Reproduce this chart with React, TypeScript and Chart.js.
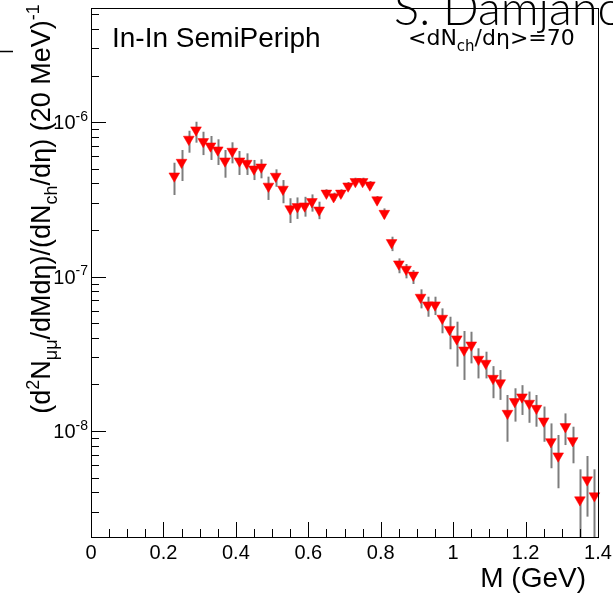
import React, { useEffect, useRef } from 'react';
import { Chart, registerables } from 'chart.js';

Chart.register(...registerables);

// ---- data ----
const massGeV = [
  0.23, 0.25, 0.27, 0.29, 0.31, 0.33, 0.35, 0.37, 0.39, 0.41,
  0.43, 0.45, 0.47, 0.49, 0.51, 0.53, 0.55, 0.57, 0.59, 0.61,
  0.63, 0.65, 0.67, 0.69, 0.71, 0.73, 0.75, 0.77, 0.79, 0.81,
  0.83, 0.85, 0.87, 0.89, 0.91, 0.93, 0.95, 0.97, 0.99, 1.01,
  1.03, 1.05, 1.07, 1.09, 1.11, 1.13, 1.15, 1.17, 1.19, 1.21,
  1.23, 1.25, 1.27, 1.29, 1.31, 1.33, 1.35, 1.37, 1.39,
];
const yieldValues = [
  4.47e-7, 5.48e-7, 7.73e-7, 8.88e-7, 7.46e-7, 6.99e-7, 6.59e-7, 5.59e-7, 6.46e-7, 5.59e-7,
  5.40e-7, 4.96e-7, 5.11e-7, 3.84e-7, 4.45e-7, 3.67e-7, 2.74e-7, 2.83e-7, 2.86e-7, 3.05e-7,
  2.69e-7, 3.46e-7, 3.28e-7, 3.46e-7, 3.85e-7, 4.11e-7, 4.11e-7, 3.91e-7, 3.13e-7, 2.56e-7,
  1.655e-7, 1.205e-7, 1.113e-7, 1.02e-7, 7.33e-8, 6.54e-8, 6.54e-8, 5.36e-8, 4.54e-8, 3.94e-8,
  3.34e-8, 3.60e-8, 2.91e-8, 2.74e-8, 2.19e-8, 2.05e-8, 1.30e-8, 1.55e-8, 1.66e-8, 1.51e-8,
  1.40e-8, 1.16e-8, 8.52e-9, 6.89e-9, 1.066e-8, 8.65e-9, 3.58e-9, 4.82e-9, 3.80e-9,
];
const errHigh = [
  5.45e-7, 6.59e-7, 8.78e-7, 1.004e-6, 8.65e-7, 8.12e-7, 7.73e-7, 6.59e-7, 7.39e-7, 6.49e-7,
  6.27e-7, 5.68e-7, 5.74e-7, 4.43e-7, 4.94e-7, 4.21e-7, 3.21e-7, 3.25e-7, 3.28e-7, 3.40e-7,
  3.05e-7, 3.67e-7, 3.49e-7, 3.67e-7, 4.09e-7, 4.36e-7, 4.36e-7, 4.15e-7, 3.32e-7, 2.76e-7,
  1.81e-7, 1.31e-7, 1.205e-7, 1.10e-7, 8.26e-8, 7.40e-8, 7.40e-8, 6.22e-8, 5.49e-8, 5.10e-8,
  4.44e-8, 4.39e-8, 3.43e-8, 3.26e-8, 2.63e-8, 2.48e-8, 1.71e-8, 1.89e-8, 1.98e-8, 1.80e-8,
  1.71e-8, 1.44e-8, 1.12e-8, 9.42e-9, 1.30e-8, 1.066e-8, 5.65e-9, 6.89e-9, 5.65e-9,
];
const errLow = [
  3.37e-7, 4.15e-7, 6.33e-7, 7.35e-7, 6.11e-7, 5.68e-7, 5.27e-7, 4.36e-7, 5.40e-7, 4.54e-7,
  4.54e-7, 4.21e-7, 4.32e-7, 3.13e-7, 3.81e-7, 2.98e-7, 2.22e-7, 2.36e-7, 2.44e-7, 2.63e-7,
  2.35e-7, 3.26e-7, 3.09e-7, 3.26e-7, 3.63e-7, 3.87e-7, 3.87e-7, 3.68e-7, 2.95e-7, 2.38e-7,
  1.46e-7, 1.05e-7, 9.73e-8, 8.94e-8, 6.22e-8, 5.49e-8, 5.63e-8, 4.29e-8, 3.38e-8, 2.61e-8,
  2.14e-8, 2.74e-8, 2.19e-8, 2.19e-8, 1.63e-8, 1.59e-8, 8.52e-9, 1.15e-8, 1.27e-8, 1.13e-8,
  1.066e-8, 8.52e-9, 5.74e-9, 4.26e-9, 8.11e-9, 6.18e-9, 1.5e-9, 2.79e-9, 1.9e-9,
];

const xTickValues = [0, 0.2, 0.4, 0.6, 0.8, 1, 1.2, 1.4];
const xTickLabels = ['0', '0.2', '0.4', '0.6', '0.8', '1', '1.2', '1.4'];
const yDecadeExponents = [-6, -7, -8];
const yDecadeLabels = ['-6', '-7', '-8'];

const xMin = 0;
const xMax = 1.4;
const yMin = 2.06e-9;
const yMax = 5.47e-6;

const legendLeft = 'In-In SemiPeriph';
const authorText = 'S. Damjanovic';
const xTitle = 'M (GeV)';

type Seg = { t: string; k: 'n' | 'sup' | 'sub' };

const yTitleSegs: Seg[] = [
  { t: '(d', k: 'n' },
  { t: '2', k: 'sup' },
  { t: 'N', k: 'n' },
  { t: 'μμ', k: 'sub' },
  { t: '/dMdη)/(dN', k: 'n' },
  { t: 'ch', k: 'sub' },
  { t: '/dη) (20 MeV)', k: 'n' },
  { t: '-1', k: 'sup' },
];
const legendRightSegs: Seg[] = [
  { t: '<dN', k: 'n' },
  { t: 'ch', k: 'sub' },
  { t: '/dη>=70', k: 'n' },
];

const SANS = '"Liberation Sans", Arial, Helvetica, sans-serif';

function drawRich(
  ctx: CanvasRenderingContext2D,
  segs: Seg[],
  size: number,
  family: string,
  x: number,
  y: number,
  align: 'left' | 'center' | 'right',
  small = 0.68,
) {
  const fontFor = (k: string) =>
    `${k === 'n' ? size : Math.round(size * small)}px ${family}`;
  const widths = segs.map((s) => {
    ctx.font = fontFor(s.k);
    return ctx.measureText(s.t).width;
  });
  const total = widths.reduce((a, b) => a + b, 0);
  let cx = align === 'left' ? x : align === 'center' ? x - total / 2 : x - total;
  ctx.textAlign = 'left';
  ctx.textBaseline = 'alphabetic';
  segs.forEach((s, i) => {
    ctx.font = fontFor(s.k);
    const dy = s.k === 'sup' ? -size * 0.42 : s.k === 'sub' ? size * 0.25 : 0;
    ctx.fillText(s.t, cx, y + dy);
    cx += widths[i];
  });
}

const paintPlugin = {
  id: 'rootStyle',
  beforeDatasetsDraw(chart: any) {
    const { ctx, chartArea: a, scales } = chart;
    const x = scales.x;
    const y = scales.y;
    ctx.save();
    ctx.beginPath();
    ctx.rect(a.left, a.top, a.right - a.left, a.bottom - a.top);
    ctx.clip();
    ctx.strokeStyle = '#7d7d7d';
    ctx.lineWidth = 2;
    massGeV.forEach((m, i) => {
      const px = Math.round(x.getPixelForValue(m)) + 0.5;
      ctx.beginPath();
      ctx.moveTo(px, y.getPixelForValue(errHigh[i]));
      ctx.lineTo(px, y.getPixelForValue(errLow[i]));
      ctx.stroke();
    });
    ctx.restore();
  },
  afterDraw(chart: any) {
    const { ctx, chartArea: a, scales } = chart;
    const x = scales.x;
    const y = scales.y;
    ctx.save();
    ctx.fillStyle = '#000';
    ctx.strokeStyle = '#000';

    // author text (cut by canvas edge)
    ctx.font = `300 47px Lato, "DejaVu Sans", sans-serif`;
    ctx.textAlign = 'left';
    ctx.textBaseline = 'alphabetic';
    ctx.fillText(authorText, 394, 25);

    // frame
    ctx.lineWidth = 1;
    ctx.strokeRect(Math.round(a.left) + 0.5, Math.round(a.top) + 0.5,
      Math.round(a.right - a.left), Math.round(a.bottom - a.top));

    // x ticks (inside)
    for (let k = 0; k <= 28; k++) {
      const v = (k * 0.05);
      const px = Math.round(x.getPixelForValue(v)) + 0.5;
      const len = k % 4 === 0 ? 15 : 8;
      ctx.beginPath();
      ctx.moveTo(px, a.bottom);
      ctx.lineTo(px, a.bottom - len);
      ctx.stroke();
    }
    // y ticks (inside, log)
    for (let e = -9; e <= -6; e++) {
      for (let m = 1; m <= 9; m++) {
        const v = m * Math.pow(10, e);
        if (v < yMin || v > yMax) continue;
        const py = Math.round(y.getPixelForValue(v)) + 0.5;
        const len = m === 1 ? 15 : 8;
        ctx.beginPath();
        ctx.moveTo(a.left, py);
        ctx.lineTo(a.left + len, py);
        ctx.stroke();
      }
    }

    // x tick labels
    ctx.font = `20px ${SANS}`;
    ctx.textAlign = 'center';
    ctx.textBaseline = 'alphabetic';
    xTickValues.forEach((v, i) => {
      ctx.fillText(xTickLabels[i], x.getPixelForValue(v), a.bottom + 22);
    });

    // y tick labels 10^n
    yDecadeExponents.forEach((e, i) => {
      const py = y.getPixelForValue(Math.pow(10, e));
      drawRich(ctx, [{ t: '10', k: 'n' }, { t: yDecadeLabels[i], k: 'sup' }], 20, SANS,
        a.left - 3, py + 7, 'right', 0.7);
    });

    // x title
    ctx.font = `28px ${SANS}`;
    ctx.textAlign = 'right';
    ctx.fillText(xTitle, 586, 587);

    // y title (rotated)
    ctx.save();
    ctx.translate(50, 209);
    ctx.rotate(-Math.PI / 2);
    drawRich(ctx, yTitleSegs, 27, SANS, 0, 0, 'center');
    ctx.restore();

    // legend texts
    ctx.font = `28px ${SANS}`;
    ctx.textAlign = 'left';
    ctx.fillText(legendLeft, 112, 47);
    drawRich(ctx, legendRightSegs, 22, '"DejaVu Sans", sans-serif', 408, 45, 'left', 0.7);

    // small stray dash at left edge
    ctx.lineWidth = 1.5;
    ctx.beginPath();
    ctx.moveTo(0, 51.5);
    ctx.lineTo(13, 51.5);
    ctx.stroke();

    ctx.restore();
  },
};

export default function App() {
  const canvasRef = useRef<HTMLCanvasElement | null>(null);

  useEffect(() => {
    if (!canvasRef.current) return;
    const points = massGeV.map((m, i) => ({ x: m, y: yieldValues[i] }));
    const chart = new Chart(canvasRef.current, {
      type: 'scatter',
      data: {
        datasets: [
          {
            data: points,
            pointStyle: 'triangle',
            pointRotation: 180,
            pointRadius: 6.2,
            pointHoverRadius: 6.2,
            pointBackgroundColor: '#ff0000',
            pointBorderColor: '#ff0000',
            pointBorderWidth: 0.5,
            showLine: false,
            clip: false,
          } as any,
        ],
      },
      options: {
        responsive: false,
        animation: false,
        devicePixelRatio: 1,
        layout: { padding: { left: 91, right: 15, top: 8, bottom: 60 } },
        plugins: { legend: { display: false }, tooltip: { enabled: false } },
        events: [],
        scales: {
          x: { type: 'linear', min: xMin, max: xMax, display: false },
          y: { type: 'logarithmic', min: yMin, max: yMax, display: false },
        },
      },
      plugins: [paintPlugin],
    });
    return () => chart.destroy();
  }, []);

  return (
    <div style={{ position: 'absolute', left: 0, top: 0, width: 613, height: 597, background: '#fff' }}>
      <canvas ref={canvasRef} width={613} height={597} style={{ display: 'block' }} />
    </div>
  );
}
